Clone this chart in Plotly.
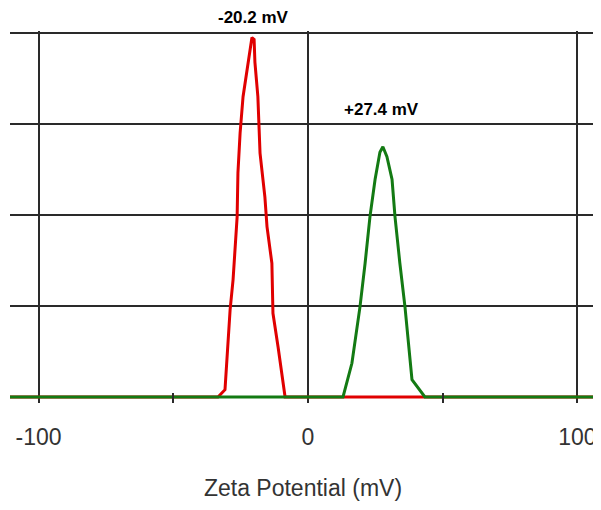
import plotly.graph_objects as go

# Red distribution (sample 1), peak -20.2 mV
red_x = [-115, -33.4, -30.8, -28.9, -27.8, -27.1, -26.3, -26.0, -25.2, -24.1, -22.6,
         -20.8, -20.0, -19.7, -18.6, -17.8, -16.0, -15.2, -13.4, -13.0, -11.1, -9.6, -8.5, 110]
red_y = [0, 0, 0.08, 0.96, 1.29, 1.65, 1.98, 2.46, 2.90, 3.30, 3.60,
         3.95, 3.93, 3.68, 3.30, 2.68, 2.20, 1.87, 1.47, 0.92, 0.55, 0.26, 0, 0]

# Green distribution (sample 2), peak +27.4 mV
green_x = [-115, 13.0, 16.3, 19.3, 21.2, 23.0, 24.9, 26.7, 27.8, 29.3, 31.2,
           32.3, 34.1, 36.0, 38.6, 43.4, 110]
green_y = [0, 0, 0.37, 0.99, 1.47, 1.98, 2.39, 2.69, 2.75, 2.64, 2.39,
           1.98, 1.47, 0.99, 0.19, 0, 0]

peak_labels = ["-20.2 mV", "+27.4 mV"]
peak_pos = [-20.2, 27.4]

x_ticks = [-100, 0, 100]
x_ticktext = ["-100", "0", "100"]
x_minor = [-50, 50]
y_grid = [0, 1, 2, 3, 4]

fig = go.Figure()
fig.add_trace(go.Scatter(x=red_x, y=red_y, mode="lines",
                         line=dict(color="#e00000", width=3), showlegend=False))
fig.add_trace(go.Scatter(x=green_x, y=green_y, mode="lines",
                         line=dict(color="#137a13", width=3), showlegend=False))

fig.add_annotation(x=peak_pos[0], y=1.035, xref="x", yref="paper", text=peak_labels[0],
                   showarrow=False, font=dict(family="Liberation Sans, Arial", size=17, color="#000"),
                   yanchor="middle")
fig.add_annotation(x=peak_pos[1], y=0.79, xref="x", yref="paper", text=peak_labels[1],
                   showarrow=False, font=dict(family="Liberation Sans, Arial", size=17, color="#000"),
                   yanchor="middle")
fig.update_annotations(font_weight="bold")

fig.update_layout(
    width=601, height=510,
    margin=dict(l=2, r=13, t=23, b=115),
    paper_bgcolor="white", plot_bgcolor="white",
    font=dict(family="Liberation Sans, Arial", color="#333"),
    xaxis=dict(range=[-110.6, 106.9], tickvals=x_ticks, ticktext=x_ticktext,
               showgrid=True, gridcolor="#2a2a2a", gridwidth=2, zeroline=False,
               showline=False, ticks="", tickfont=dict(size=23, color="#333"),
               ticklabelstandoff=18,
               minor=dict(tickvals=x_minor, ticks="inside", ticklen=10,
                          tickwidth=2, tickcolor="#2a2a2a", showgrid=False),
               title=dict(text="Zeta Potential (mV)", font=dict(size=23, color="#333"),
                          standoff=30),
               automargin=False),
    yaxis=dict(range=[-0.066, 4.022], tickvals=y_grid, showticklabels=False,
               showgrid=True, gridcolor="#2a2a2a", gridwidth=2, zeroline=False,
               showline=False, ticks="", automargin=False),
)

fig.write_html("out.html")
